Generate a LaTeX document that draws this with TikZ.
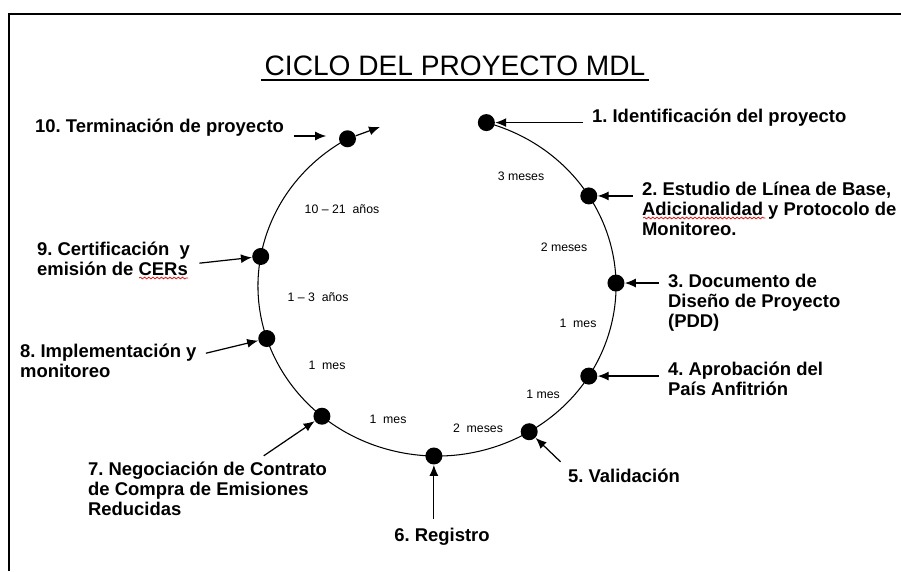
\documentclass[tikz,border=0pt]{standalone}
\usepackage{fontspec}
\setmainfont{Liberation Sans}
\frenchspacing
\usetikzlibrary{arrows.meta, decorations.pathmorphing}

\begin{document}
\begin{tikzpicture}[
  hito/.style={circle, fill=black, inner sep=0pt, minimum size=0.34cm},
  etiqueta/.style={font=\fontsize{10.5}{11.4}\selectfont\bfseries, align=left, inner sep=1pt},
  plazo/.style={font=\fontsize{7}{8}\selectfont, inner sep=1pt},
  flecha/.style={-{Latex[length=2.2mm, width=1.8mm]}, line width=0.7pt, shorten <=0.15cm},
  subrayado/.style={red, line width=0.4pt, decorate, decoration={snake, amplitude=0.5pt, segment length=2.4pt}}
]
\useasboundingbox (0,0) rectangle (18.02,11.42);

% frame
\draw [line width=1pt] (0.18,0) -- (0.18,11.14) -- (18.02,11.14);

%%%  nodes

% title
\node [font=\fontsize{16}{18}\selectfont, inner sep=2pt] (titulo) at (9.1,10.1) {CICLO DEL PROYECTO MDL};

% cycle nodes
\coordinate (c) at (8.74,5.70);
\node [hito] (n1) at ([shift={(74:3.58cm and 3.40cm)}]c) {};
\node [hito] (n2) at ([shift={(32:3.58cm and 3.40cm)}]c) {};
\node [hito] (n3) at ([shift={(1:3.58cm and 3.40cm)}]c) {};
\node [hito] (n4) at ([shift={(-32:3.58cm and 3.40cm)}]c) {};
\node [hito] (n5) at ([shift={(-59:3.58cm and 3.40cm)}]c) {};
\node [hito] (n6) at ([shift={(-91:3.58cm and 3.40cm)}]c) {};
\node [hito] (n7) at ([shift={(-130:3.58cm and 3.40cm)}]c) {};
\node [hito] (n8) at ([shift={(-162:3.58cm and 3.40cm)}]c) {};
\node [hito] (n9) at ([shift={(170:3.58cm and 3.40cm)}]c) {};
\node [hito] (n10) at ([shift={(120:3.58cm and 3.40cm)}]c) {};
\coordinate (fin) at (7.6,8.88);

% step labels
\node [etiqueta, anchor=west] (t1) at (11.8,9.06) {1. Identificación del proyecto};
\node [etiqueta, anchor=north west] (t2) at (12.8,7.82) {2. Estudio de Línea de Base,\\Adicionalidad y Protocolo de\\Monitoreo.};
\node [etiqueta, anchor=north west] (t3) at (13.32,5.98) {3. Documento de\\Diseño de Proyecto\\(PDD)};
\node [etiqueta, anchor=north west] (t4) at (13.32,4.22) {4. Aprobación del\\País Anfitrión};
\node [etiqueta, anchor=west] (t5) at (11.32,1.90) {5. Validación};
\node [etiqueta] (t6) at (8.84,0.68) {6. Registro};
\node [etiqueta, anchor=north west] (t7) at (1.72,2.22) {7. Negociación de Contrato\\de Compra de Emisiones\\Reducidas};
\node [etiqueta, anchor=north west] (t8) at (0.36,4.58) {8. Implementación y\\monitoreo};
\node [etiqueta, anchor=north west] (t9) at (0.70,6.62) {9. Certificación\ \ y\\emisión de CERs};
\node [etiqueta, anchor=west] (t10) at (0.66,8.86) {10. Terminación de proyecto};
\coordinate (a10) at ([yshift=-0.16cm]t10.east);

% durations
\node [plazo] (p1) at (10.42,7.90) {3 meses};
\node [plazo] (p2) at (11.28,6.48) {2 meses};
\node [plazo] (p3) at (11.56,4.96) {1\ \ mes};
\node [plazo] (p4) at (10.86,3.54) {1 mes};
\node [plazo] (p5) at (9.56,2.86) {2\ \ meses};
\node [plazo] (p6) at (7.76,3.04) {1\ \ mes};
\node [plazo] (p7) at (6.54,4.12) {1\ \ mes};
\node [plazo] (p8) at (6.36,5.48) {1 -- 3\ \ años};
\node [plazo] (p9) at (6.84,7.24) {10 -- 21\ \ años};

%%% edges

% cycle
\draw [line width=0.6pt] (n1.center) arc [start angle=74, end angle=-240, x radius=3.58, y radius=3.40];

% label arrows
\draw [flecha] (t1.west |- n1) -- (n1);
\draw [flecha] (t2.north west |- n2) -- (n2);
\draw [flecha] (t3.north west |- n3) -- (n3);
\draw [flecha] (t4.north west |- n4) -- (n4);
\draw [flecha] (t5.north west) -- (n5);
\draw [flecha] (t6.north -| n6) -- (n6);
\draw [flecha] ([xshift=1cm]t7.north) -- (n7);
\draw [flecha] ([yshift=-0.26cm]t8.north east) -- (n8);
\draw [flecha] ([yshift=-0.1cm]t9.east) -- (n9);
\draw [flecha, shorten >=0.25cm] (a10) -- (a10 -| n10.west);
\draw [flecha, shorten <=0pt] (n10) -- (fin);

% title underline
\draw [line width=1pt] (titulo.south west) -- (titulo.south east);

% spell check marks
\draw [subrayado] (12.86,7.06) -- (15.3,7.06);
\draw [subrayado] (2.78,5.86) -- (3.76,5.86);
\end{tikzpicture}
\end{document}
